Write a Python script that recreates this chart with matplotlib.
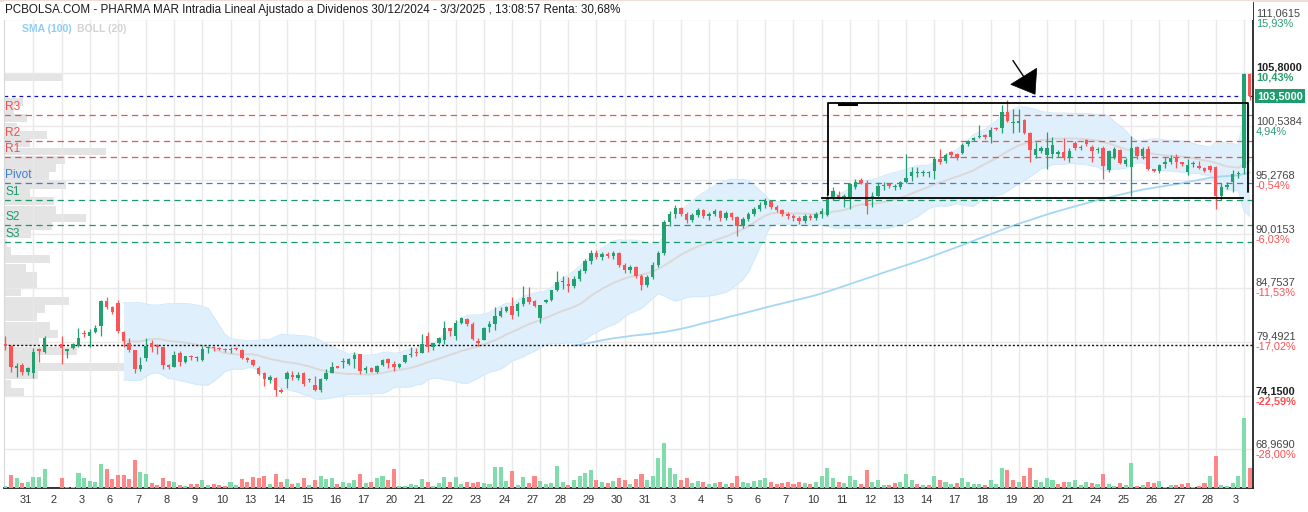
import numpy as np
import pandas as pd
import matplotlib
matplotlib.use("Agg")
import matplotlib.pyplot as plt
from matplotlib import font_manager
from matplotlib.patches import Rectangle, Polygon
from matplotlib.lines import Line2D

nan = float("nan")

TITLE = ("PCBOLSA.COM - PHARMA MAR Intradia Lineal Ajustado a Dividenos "
         "30/12/2024 - 3/3/2025 , 13:08:57 Renta: 30,68%")

day_labels = ['31', '2', '3', '6', '7', '8', '9', '10', '13', '14', '15', '16', '17',
              '20', '21', '22', '23', '24', '27', '28', '29', '30', '31', '3', '4', '5',
              '6', '7', '10', '11', '12', '13', '14', '17', '18', '19', '20', '21', '24',
              '25', '26', '27', '28', '3']
CANDLES_PER_DAY = 5

opens = [
    79.2, 79.1, 76.95, 77.2, 76.5, 76.4, 78.75, 78.5, nan, nan,
    79.25, 78.6, 78.85, 79.1, 80.3, 80.0, 80.4, 81.0, 83.45, 82.9,
    83.3, 80.4, 79.4, 78.65, 76.8, 77.85, 79.35, 79.15, 78.95, 77.2,
    77.05, 78.35, 77.5, 78.05, 77.88, 77.7, 78.82, 79.0, 78.88, 78.72,
    78.65, 78.85, 78.7, 77.9, 77.7, 76.9, 76.4, 75.7, 75.95, 74.8,
    75.8, 76.2, 75.9, 76.4, 75.78, 75.2, 74.75, 75.8, 76.45, 77.02,
    77.45, 77.3, 77.75, 78.3, 76.75, 76.9, 76.5, 77.2, 77.8, 77.3,
    77.0, 77.5, 78.15, 78.45, 78.4, 80.0, 78.93, 79.4, 79.65, 80.8,
    80.06, 81.35, 81.7, 81.2, 79.45, 79.65, 80.9, 81.2, 82.0, 82.5,
    82.95, 82.5, 83.15, 83.9, 83.5, 81.8, 83.4, 83.6, 84.5, 85.3,
    85.1, 84.9, 85.6, 86.4, 87.4, 88.2, 87.8, 88.1, 87.9, 88.2,
    87.0, 86.5, 86.8, 85.9, 85.0, 85.8, 87.0, 88.2, 91.2, 92.0,
    92.6, 92.0, 91.4, 91.9, 92.4, 91.8, 92.0, 92.3, 91.6, 92.1,
    91.7, 90.8, 91.5, 92.0, 92.5, 92.9, 93.2, 92.7, 92.4, 92.0,
    91.8, 91.6, 91.3, 91.8, 91.6, 92.0, 91.9, 93.5, 93.8, 93.65,
    93.5, 94.6, 95.3, 95.0, 93.65, 93.7, 94.72, 94.9, 94.6, 94.6,
    95.1, 95.7, 96.0, 96.0, 95.95, 96.2, 97.4, 97.2, 98.0, 97.8,
    97.9, 98.8, 99.2, 99.5, 99.7, 99.5, 100.4, 100.4, 101.95, 100.9,
    100.9, 101.2, 99.9, 97.7, 98.1, 97.7, 97.8, 97.8, 98.0, 97.5,
    98.9, 98.45, 99.2, 98.5, 98.2, 98.4, 96.3, 97.6, 98.2, 96.9,
    96.6, 98.5, 97.65, 98.3, 96.35, 96.2, 96.9, 97.1, 97.5, 96.95,
    96.1, 96.85, 96.7, 96.5, 96.7, 96.6, 93.7, 94.6, 95.1, 95.85, 96.45, 105.7,
]
highs = [
    80.0, 79.2, 77.4, 77.4, 77.0, 78.9, 78.9, 80.0, nan, nan,
    80.05, 78.8, 79.4, 80.8, 80.6, 80.7, 81.1, 83.6, 83.9, 83.0,
    83.6, 80.5, 79.8, 78.7, 78.0, 79.8, 79.6, 79.3, 79.0, 77.25,
    78.6, 78.6, 78.1, 78.2, 78.1, 79.1, 79.1, 79.1, 79.0, 78.9,
    78.95, 79.0, 78.8, 78.0, 77.8, 77.1, 76.5, 76.2, 76.0, 74.95,
    76.6, 76.6, 76.5, 76.5, 75.9, 76.1, 75.9, 76.8, 77.5, 77.1,
    77.9, 77.9, 78.5, 78.3, 77.1, 77.0, 77.2, 77.8, 77.9, 77.6,
    77.4, 78.2, 79.0, 78.9, 80.2, 80.4, 79.4, 79.9, 81.5, 80.85,
    81.6, 81.9, 81.8, 81.45, 79.8, 80.9, 81.55, 82.9, 82.85, 83.0,
    83.9, 83.4, 84.9, 84.8, 83.6, 83.1, 83.7, 84.55, 86.4, 85.9,
    85.8, 85.9, 86.6, 87.6, 88.5, 88.5, 88.3, 88.3, 88.4, 88.3,
    87.2, 87.0, 86.9, 86.1, 86.0, 87.3, 88.4, 91.4, 92.3, 92.9,
    92.7, 92.2, 92.1, 92.6, 92.5, 92.2, 92.5, 92.4, 92.3, 92.2,
    91.8, 91.7, 92.2, 92.7, 93.1, 93.5, 93.3, 92.9, 92.5, 92.2,
    92.0, 91.8, 92.0, 92.0, 92.2, 92.6, 94.0, 94.6, 94.2, 93.9,
    95.0, 95.4, 95.5, 95.3, 94.1, 95.1, 95.1, 95.0, 94.9, 95.2,
    97.8, 96.6, 96.6, 96.3, 96.2, 97.6, 98.3, 97.9, 98.1, 97.9,
    98.9, 99.2, 99.5, 100.7, 99.8, 100.5, 100.5, 102.6, 103.13, 102.2,
    102.2, 101.3, 100.0, 99.05, 98.6, 100.0, 99.5, 98.2, 99.4, 98.4,
    99.1, 98.7, 99.3, 98.7, 98.5, 98.6, 98.2, 98.5, 98.3, 97.5,
    99.6, 98.6, 98.5, 98.6, 96.4, 96.9, 97.6, 97.7, 97.8, 97.1,
    97.4, 97.2, 97.2, 96.6, 96.8, 96.7, 95.0, 95.1, 96.3, 96.2, 105.8, 105.8,
]
lows = [
    78.7, 76.5, 76.05, 76.2, 76.2, 75.95, 77.5, 78.4, nan, nan,
    77.3, 77.9, 78.8, 79.0, 79.9, 79.0, 80.3, 80.0, 82.7, 82.2,
    80.3, 79.0, 78.5, 76.45, 76.6, 77.6, 78.5, 78.3, 76.8, 76.8,
    77.0, 77.1, 77.4, 77.7, 77.6, 77.55, 78.4, 78.6, 78.7, 78.5,
    78.4, 78.65, 77.8, 77.5, 77.1, 76.2, 75.1, 75.4, 74.15, 74.45,
    74.9, 75.7, 75.7, 75.1, 75.5, 74.7, 74.6, 75.7, 76.4, 76.9,
    76.9, 77.2, 76.9, 76.3, 76.4, 76.5, 76.4, 77.1, 76.9, 76.6,
    76.9, 77.4, 78.0, 78.1, 78.35, 78.5, 78.7, 79.3, 79.3, 80.0,
    79.6, 81.2, 81.0, 79.65, 79.1, 79.6, 80.4, 80.6, 81.9, 82.4,
    81.7, 82.0, 83.0, 83.2, 82.9, 81.3, 83.3, 83.5, 84.4, 84.6,
    84.3, 84.7, 85.4, 86.2, 87.1, 87.6, 87.5, 87.7, 87.6, 86.8,
    86.2, 86.2, 85.7, 84.5, 84.8, 85.6, 86.8, 88.0, 90.8, 91.6,
    91.8, 91.1, 91.2, 91.7, 91.6, 91.4, 91.8, 91.3, 91.4, 91.4,
    89.8, 90.6, 91.3, 91.8, 92.3, 92.6, 92.5, 92.2, 91.8, 91.5,
    91.3, 91.0, 91.1, 91.4, 91.4, 91.6, 91.8, 93.3, 93.4, 92.7,
    92.5, 94.4, 94.9, 92.0, 92.7, 93.5, 94.3, 94.5, 94.3, 94.4,
    95.0, 95.2, 95.6, 95.7, 95.6, 95.4, 96.9, 97.0, 97.6, 97.3,
    97.8, 98.6, 99.1, 99.4, 99.3, 98.9, 100.2, 99.9, 101.0, 99.9,
    100.0, 99.8, 97.1, 97.5, 97.9, 96.4, 97.5, 97.6, 97.3, 97.1,
    98.2, 98.2, 98.6, 97.1, 97.9, 95.4, 96.1, 97.4, 96.9, 96.7,
    93.7, 97.4, 97.4, 96.3, 96.1, 96.0, 96.45, 96.9, 96.5, 96.7,
    95.8, 96.6, 96.4, 96.1, 96.1, 92.5, 93.3, 94.4, 94.16, 95.5, 95.9, 103.1,
]
closes = [
    79.1, 77.0, 77.05, 76.55, 76.9, 78.5, 78.6, 79.8, nan, nan,
    78.85, 78.7, 79.25, 79.85, 80.2, 80.45, 80.85, 83.45, 82.9, 82.4,
    80.55, 79.5, 78.65, 76.8, 77.2, 79.05, 79.0, 78.95, 77.2, 77.0,
    78.2, 77.5, 78.05, 78.0, 77.92, 78.75, 78.86, 78.85, 78.78, 78.65,
    78.7, 78.78, 77.85, 77.7, 77.2, 76.3, 75.85, 76.0, 74.8, 74.6,
    76.4, 76.05, 76.2, 75.35, 75.7, 74.8, 75.8, 76.45, 77.0, 76.95,
    77.52, 77.8, 78.2, 76.65, 76.82, 76.55, 77.1, 77.7, 77.4, 77.0,
    77.3, 78.18, 78.22, 78.38, 79.3, 78.93, 79.4, 79.8, 80.8, 80.55,
    81.3, 81.75, 81.25, 79.75, 79.4, 80.8, 81.2, 82.0, 82.5, 82.9,
    82.1, 83.15, 83.8, 83.4, 83.0, 83.07, 83.6, 84.5, 85.3, 85.4,
    84.9, 85.6, 86.4, 87.4, 88.2, 87.8, 88.1, 87.9, 88.2, 87.0,
    86.5, 86.8, 85.9, 85.0, 85.8, 87.0, 88.2, 91.2, 92.0, 92.6,
    92.0, 91.4, 91.9, 92.4, 91.8, 92.0, 92.3, 91.6, 92.1, 91.7,
    90.8, 91.5, 92.0, 92.5, 92.9, 93.2, 92.7, 92.4, 92.0, 91.8,
    91.6, 91.3, 91.8, 91.6, 92.0, 92.3, 93.5, 94.2, 93.5, 93.75,
    94.9, 95.1, 95.0, 92.8, 93.75, 94.7, 94.78, 94.7, 94.65, 95.1,
    95.5, 96.1, 96.05, 96.05, 96.0, 97.4, 97.1, 97.7, 97.7, 97.5,
    98.7, 99.1, 99.4, 99.55, 99.5, 100.2, 100.3, 102.0, 101.1, 101.0,
    101.1, 99.9, 98.2, 98.3, 98.4, 98.4, 98.7, 98.0, 97.5, 98.1,
    98.4, 98.5, 98.8, 98.1, 98.25, 96.7, 98.1, 98.3, 97.0, 97.3,
    98.4, 97.65, 98.3, 96.4, 96.2, 96.8, 97.1, 97.5, 97.1, 96.9,
    96.8, 96.95, 96.5, 96.2, 96.3, 93.7, 94.6, 94.8, 95.9, 95.95, 105.7, 103.5,
]
volumes = [
    2, 13.3, 10, 5, 6, 11, 11, 19, 0, 0,
    10, 1, 1, 15, 10, 6.7, 6, 24, 19, 9,
    13.3, 13.3, 9, 28, 16, 14.3, 5, 3, 10, 7,
    6, 3, 2, 4.3, 4.3, 8, 3, 4, 3, 2,
    6, 3, 9, 6, 11, 10, 12, 4, 14, 6,
    9, 4, 5, 10, 3, 8, 12, 9, 10, 4,
    6, 5, 8, 14, 5, 6, 10, 12, 8, 19,
    2.3, 2.3, 4, 3.3, 9, 6, 2, 5, 11, 6,
    11, 4, 6, 5, 6, 5, 4, 21, 21, 7,
    17, 3, 11, 5, 12.3, 7, 4, 5, 22, 6,
    3, 8, 12, 15, 18, 8, 6, 5, 7, 10,
    8, 4, 9, 14, 8, 12, 30, 45, 20, 14,
    8, 10, 5, 7, 6, 4, 5, 6, 4, 5,
    12, 6, 5, 7, 8, 10, 6, 4, 5, 6,
    4, 6, 5, 4, 6, 12, 20, 10, 6, 5,
    12, 8, 4, 18, 6, 8, 3, 3, 5, 6,
    14, 8, 4, 3, 3, 12, 8, 6, 4, 5,
    10, 6, 4, 4, 3, 8, 4, 20, 18, 8,
    6, 12, 20, 8, 6, 10, 8, 4, 6, 6,
    8, 3, 6, 5, 4, 14, 4, 2, 5, 3,
    25, 2, 3, 6, 5, 7, 1, 3, 3, 4,
    5, 1, 2, 5, 12.3, 32, 3, 2, 5, 12.3, 70, 20,
]

# volume-at-price profile (39 bins between the period low and high)
profile_high = 105.8
profile_low = 74.15
profile_volume = [57.7, 0, 0, 19.3, 10, 22.7, 13.3, 43.3, 25.7, 102,
                  61, 51.7, 45, 61.7, 25.7, 50, 52.3, 81.7, 48.3, 26.7,
                  3, 6.7, 45.7, 22, 33, 33, 17, 65, 41, 33,
                  46, 54, 35, 73, 34, 129, 34, 7, 20]

pivot_names = ['R3', 'R2', 'R1', 'Pivot', 'S1', 'S2', 'S3']
pivot_values = [101.63, 99.12, 97.55, 94.97, 93.31, 90.87, 89.2]
last_price = 103.5
renta_base = 79.2

axis_prices = [111.0615, 105.8, 100.5384, 95.2768, 90.0153, 84.7537, 79.4921, 74.15, 68.969]
axis_price_txt = ['111,0615', '105,8000', '100,5384', '95,2768', '90,0153', '84,7537',
                  '79,4921', '74,1500', '68,9690']
axis_pct_txt = ['15,93%', '10,43%', '4,94%', '-0,54%', '-6,03%', '-11,53%', '-17,02%',
                '-22,59%', '-28,00%']
axis_bold = [False, True, False, False, False, False, False, True, False]

# hand-drawn annotations (slot, price)
box_left, box_right, box_top, box_bottom = 146.1, 220.8, 102.88, 93.57
box_bottom_from, box_bottom_to = 145.0, 219.8
arrow_line = [(179.0, 106.97), (180.9, 105.41)]
arrow_head = [(178.6, 104.66), (183.2, 106.23), (182.9, 103.69)]

# ---------------------------------------------------------------- styling
def pick_font(cands):
    for c in cands:
        try:
            font_manager.findfont(font_manager.FontProperties(family=c),
                                  fallback_to_default=False)
            return c
        except Exception:
            pass
    return "DejaVu Sans"

SANS = pick_font(["Liberation Sans", "Arial", "DejaVu Sans"])
NARROW = pick_font(["Liberation Sans Narrow", "Liberation Sans", "DejaVu Sans"])
plt.rcParams['font.family'] = [SANS, 'DejaVu Sans']

GREEN = '#22a06f'
RED = '#fb5454'
VGREEN = '#80dcaa'
VRED = '#ff8686'
GRID = '#e9e9e9'

W, H = 1308, 512
AX_L, AX_R, AX_T, AX_B = 4, 1253, 3, 488
PX_SLOT0, PX_PER_SLOT = 5.3, 5.63
PRICE_REF, PY_REF, PX_PER_UNIT = 105.8, 72.7, 10.22

def slot_of(px):
    return (px - PX_SLOT0) / PX_PER_SLOT

def price_of(py):
    return PRICE_REF - (py - PY_REF) / PX_PER_UNIT

fig = plt.figure(figsize=(W / 100, H / 100), dpi=100)
fig.patch.set_facecolor('white')
rect = [AX_L / W, 1 - AX_B / H, (AX_R - AX_L) / W, (AX_B - AX_T) / H]

xlim = (slot_of(AX_L), slot_of(AX_R))
ylim = (price_of(AX_B), price_of(AX_T))

# volume profile axes (bottom layer)
axp = fig.add_axes(rect, zorder=0)
axp.set_xlim(0, AX_R - AX_L)
axp.set_ylim(*ylim)
axp.axis('off')
nb = len(profile_volume)
step = (profile_high - profile_low) / nb
centers = profile_high - step * (np.arange(nb) + 0.5)
axp.barh(centers, profile_volume, height=step * 0.96, left=0, color='#e4e4e4', lw=0)

ax = fig.add_axes(rect, zorder=1)
ax.patch.set_visible(False)
ax.set_xlim(*xlim)
ax.set_ylim(*ylim)

o = np.array(opens, float)
h = np.array(highs, float)
l = np.array(lows, float)
c = np.array(closes, float)
v = np.array(volumes, float)
n = len(c)
x = np.arange(n)
ok = ~np.isnan(c)

# grid
ndays = len(day_labels)
for k in range(1, ndays + 1):
    ax.axvline(k * CANDLES_PER_DAY, color=GRID, lw=1, zorder=0.5)
for p in axis_prices:
    ax.axhline(p, color=GRID, lw=1, zorder=0.5)

# bollinger + sma from the closes
cs = pd.Series(c[ok], index=x[ok])
mid = cs.rolling(20).mean()
sd = cs.rolling(20).std(ddof=0)
ax.fill_between(cs.index, mid - 2 * sd, mid + 2 * sd, color='#dff0fc', lw=0, zorder=1)
ax.plot(cs.index, mid + 2 * sd, color='#d3eafb', lw=0.8, zorder=1.1)
ax.plot(cs.index, mid - 2 * sd, color='#d3eafb', lw=0.8, zorder=1.1)
ax.plot(cs.index, mid, color='#dcd8d8', lw=1.4, zorder=1.2)
sma = cs.rolling(100).mean()
ax.plot(cs.index, sma, color='#a6d6f6', lw=1.3, zorder=1.3)

# horizontal reference lines
for name, val in zip(pivot_names, pivot_values):
    col = '#f25050' if name.startswith('R') else ('#3b7fd9' if name == 'Pivot' else '#1a9a68')
    ax.axhline(val, color=col, lw=0.9, ls=(0, (5, 3.5)), zorder=2)
    ax.annotate(name, xy=(0, val), xycoords=('axes fraction', 'data'),
                xytext=(1, 2), textcoords='offset pixels', ha='left', va='bottom',
                color=col, fontsize=8.6, zorder=6)
ax.axhline(last_price, color='#1010c8', lw=0.9, ls=(0, (3, 3)), zorder=2)
ax.axhline(renta_base, color='#111111', lw=1.0, ls=(0, (1.5, 1.5)), zorder=2)

# candles
up = c >= o
col = np.where(up, GREEN, RED)
ax.vlines(x[ok], l[ok], h[ok], colors=col[ok], lw=0.9, zorder=3)
body = np.maximum(np.abs(c - o), 0.12)
bottom = np.minimum(o, c)
ax.bar(x[ok], body[ok], bottom=bottom[ok], width=0.62, color=col[ok], lw=0, zorder=3.1)

# volume
ax2 = ax.twinx()
ax2.set_ylim(0, AX_B - AX_T)
ax2.axis('off')
prev = pd.Series(c).ffill().shift(1).fillna(c[0]).values
vcol = np.where(c >= prev, VGREEN, VRED)
ax2.bar(x[ok], v[ok], width=0.72, color=vcol[ok], lw=0, zorder=2)

# annotations
ax.plot([box_left, box_left, box_right, box_right], [box_bottom + 0.3, box_top, box_top, box_bottom + 0.6],
        color='black', lw=1.3, zorder=5, solid_capstyle='round')
ax.plot([box_bottom_from, box_bottom_to], [box_bottom, box_bottom], color='black', lw=1.3, zorder=5)
ax.plot([box_left + 2, box_left + 5], [box_top - 0.1, box_top - 0.1], color='black', lw=2.2, zorder=5)
ax.plot([p[0] for p in arrow_line], [p[1] for p in arrow_line], color='black', lw=1.0, zorder=5)
ax.add_patch(Polygon(arrow_head, closed=True, fc='black', ec='black', lw=0.5, zorder=5))

# axes frame
ax.spines['top'].set_visible(False)
ax.spines['left'].set_color('#d8d8d8')
ax.spines['bottom'].set_color('#222222')
ax.spines['bottom'].set_linewidth(1.3)
ax.spines['right'].set_color('#222222')
ax.spines['right'].set_linewidth(1.3)
ax.set_yticks([])
ticks = [k * CANDLES_PER_DAY + 3.6 for k in range(ndays)]
ax.set_xticks(ticks)
ax.set_xticklabels(day_labels)
ax.tick_params(axis='x', length=0, pad=5, labelsize=7.9, labelcolor='#333333')

# right-hand price labels
for p, pt, pc, b in zip(axis_prices, axis_price_txt, axis_pct_txt, axis_bold):
    ax.annotate(pt, xy=(1, p), xycoords=('axes fraction', 'data'), xytext=(3, 0),
                textcoords='offset pixels', ha='left', va='bottom', fontsize=7.9,
                color='#222222' if b else '#444444', fontweight='bold' if b else 'normal',
                annotation_clip=False)
    ax.annotate(pc, xy=(1, p), xycoords=('axes fraction', 'data'), xytext=(3, 0),
                textcoords='offset pixels', ha='left', va='top', fontsize=7.9,
                color=('#2a9d70' if not pc.startswith('-') else '#ff4f4f'),
                fontweight='bold' if b else 'normal', annotation_clip=False)
ax.annotate('103,5000', xy=(1, last_price), xycoords=('axes fraction', 'data'),
            xytext=(4, 0), textcoords='offset pixels', ha='left', va='center',
            fontsize=7.9, color='white', fontweight='bold', annotation_clip=False,
            bbox=dict(boxstyle='square,pad=0.18', fc='#1f9b6e', ec='none'))

# title strip
fig.patches.append(Rectangle((AX_L / W, 1 - 20 / H), (AX_R - AX_L) / W, 19 / H,
                             transform=fig.transFigure, fc='white', ec='none', zorder=3))
fig.add_artist(Line2D([0, 1], [1 - 1 / H, 1 - 1 / H], transform=fig.transFigure,
                      color='#efd6d6', lw=1.2))
t = fig.text(5 / W, 1 - 10.5 / H, TITLE, ha='left', va='center', fontsize=9,
             color='#1a1a1a', family=[NARROW, 'DejaVu Sans'], zorder=5)
fig.canvas.draw()
w = t.get_window_extent().width
t.set_fontsize(9 * 617 / w)

fig.text(22 / W, 1 - 28.5 / H, 'SMA (100)', ha='left', va='center', fontsize=7.5,
         color='#8fcdf5', fontweight='bold')
fig.text(77 / W, 1 - 28.5 / H, 'BOLL (20)', ha='left', va='center', fontsize=7.5,
         color='#d2d2d2', fontweight='bold')

fig.savefig('out.png', dpi=100, facecolor='white')
